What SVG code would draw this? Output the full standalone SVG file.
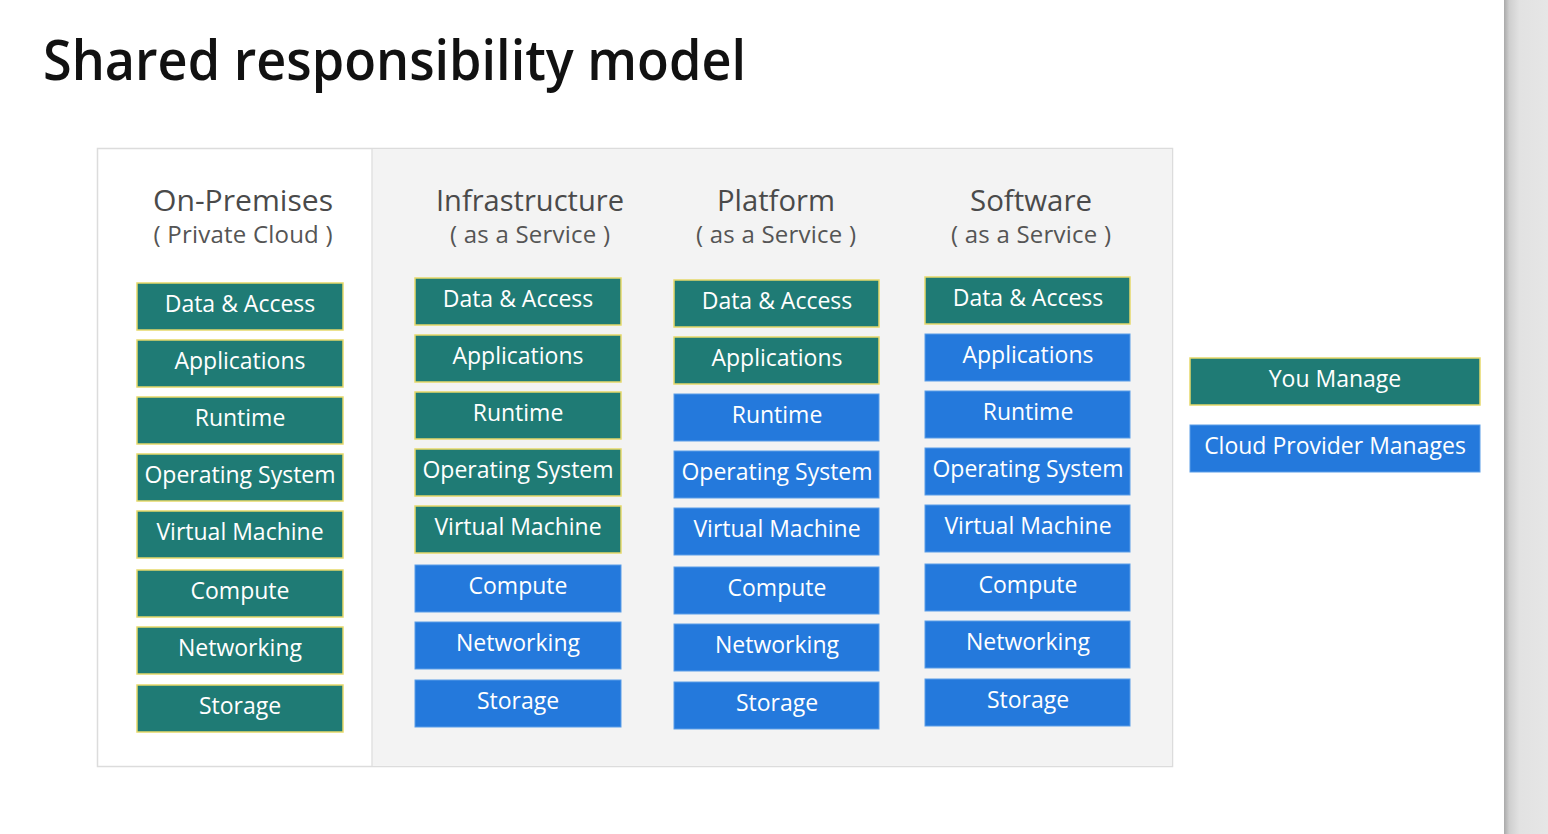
<svg xmlns="http://www.w3.org/2000/svg" width="1548" height="834" viewBox="0 0 1548 834">
<defs>
<linearGradient id="edge" x1="0" y1="0" x2="1" y2="0">
<stop offset="0" stop-color="#a9a9a9"/>
<stop offset="0.12" stop-color="#cfcfcf"/>
<stop offset="0.35" stop-color="#e2e2e2"/>
<stop offset="1" stop-color="#e6e6e6"/>
</linearGradient>
</defs>
<style>
.you{fill:#1f7b75;stroke:#e6d96a;stroke-width:1.5}
.cp{fill:#2479dc;stroke:#5a9ee8;stroke-width:1}
.lbl{font-family:"Open Sans","Liberation Sans",sans-serif;font-size:23px;fill:#ffffff;text-anchor:middle}
.hd{font-family:"Open Sans","Liberation Sans",sans-serif;font-size:30px;fill:#4a4a4a;text-anchor:middle}
.sub{font-family:"Open Sans","Liberation Sans",sans-serif;font-size:24px;fill:#555555;text-anchor:middle}
</style>
<rect x="0" y="0" width="1548" height="834" fill="#ffffff"/>
<rect x="1504" y="0" width="44" height="834" fill="url(#edge)"/>
<text x="43" y="80" font-family="'Open Sans','Liberation Sans',sans-serif" font-size="56" font-weight="600" fill="#111111" textLength="703" lengthAdjust="spacingAndGlyphs">Shared responsibility model</text>
<g id="panel">
<rect x="97.5" y="148.5" width="1075" height="618" fill="#ffffff" stroke="#dcdcdc" stroke-width="1.5"/>
<rect x="372" y="149.3" width="800" height="616.5" fill="#f3f3f3"/>
<line x1="372" y1="149" x2="372" y2="766" stroke="#e2e2e2" stroke-width="1.5"/>
</g>
<g id="col-onprem">
<text class="hd" x="243" y="211" textLength="180" lengthAdjust="spacingAndGlyphs">On-Premises</text>
<text class="sub" x="243" y="243" textLength="179" lengthAdjust="spacing">( Private Cloud )</text>
<g id="op-data"><rect class="you" x="137" y="283" width="206" height="47"/><text class="lbl" x="240" y="312">Data &amp; Access</text></g>
<g id="op-apps"><rect class="you" x="137" y="340" width="206" height="47"/><text class="lbl" x="240" y="369">Applications</text></g>
<g id="op-runtime"><rect class="you" x="137" y="397" width="206" height="47"/><text class="lbl" x="240" y="426">Runtime</text></g>
<g id="op-os"><rect class="you" x="137" y="454" width="206" height="47"/><text class="lbl" x="240" y="483">Operating System</text></g>
<g id="op-vm"><rect class="you" x="137" y="511" width="206" height="47"/><text class="lbl" x="240" y="540">Virtual Machine</text></g>
<g id="op-compute"><rect class="you" x="137" y="570" width="206" height="47"/><text class="lbl" x="240" y="599">Compute</text></g>
<g id="op-net"><rect class="you" x="137" y="627" width="206" height="47"/><text class="lbl" x="240" y="656">Networking</text></g>
<g id="op-storage"><rect class="you" x="137" y="685" width="206" height="47"/><text class="lbl" x="240" y="714">Storage</text></g>
</g>
<g id="col-iaas">
<text class="hd" x="530" y="211" textLength="188" lengthAdjust="spacingAndGlyphs">Infrastructure</text>
<text class="sub" x="530" y="243" textLength="160" lengthAdjust="spacing">( as a Service )</text>
<g id="ia-data"><rect class="you" x="415" y="278" width="206" height="47"/><text class="lbl" x="518" y="307">Data &amp; Access</text></g>
<g id="ia-apps"><rect class="you" x="415" y="335" width="206" height="47"/><text class="lbl" x="518" y="364">Applications</text></g>
<g id="ia-runtime"><rect class="you" x="415" y="392" width="206" height="47"/><text class="lbl" x="518" y="421">Runtime</text></g>
<g id="ia-os"><rect class="you" x="415" y="449" width="206" height="47"/><text class="lbl" x="518" y="478">Operating System</text></g>
<g id="ia-vm"><rect class="you" x="415" y="506" width="206" height="47"/><text class="lbl" x="518" y="535">Virtual Machine</text></g>
<g id="ia-compute"><rect class="cp" x="415" y="565" width="206" height="47"/><text class="lbl" x="518" y="594">Compute</text></g>
<g id="ia-net"><rect class="cp" x="415" y="622" width="206" height="47"/><text class="lbl" x="518" y="651">Networking</text></g>
<g id="ia-storage"><rect class="cp" x="415" y="680" width="206" height="47"/><text class="lbl" x="518" y="709">Storage</text></g>
</g>
<g id="col-paas">
<text class="hd" x="776" y="211" textLength="118" lengthAdjust="spacingAndGlyphs">Platform</text>
<text class="sub" x="776" y="243" textLength="160" lengthAdjust="spacing">( as a Service )</text>
<g id="pa-data"><rect class="you" x="674" y="280" width="205" height="47"/><text class="lbl" x="777" y="309">Data &amp; Access</text></g>
<g id="pa-apps"><rect class="you" x="674" y="337" width="205" height="47"/><text class="lbl" x="777" y="366">Applications</text></g>
<g id="pa-runtime"><rect class="cp" x="674" y="394" width="205" height="47"/><text class="lbl" x="777" y="423">Runtime</text></g>
<g id="pa-os"><rect class="cp" x="674" y="451" width="205" height="47"/><text class="lbl" x="777" y="480">Operating System</text></g>
<g id="pa-vm"><rect class="cp" x="674" y="508" width="205" height="47"/><text class="lbl" x="777" y="537">Virtual Machine</text></g>
<g id="pa-compute"><rect class="cp" x="674" y="567" width="205" height="47"/><text class="lbl" x="777" y="596">Compute</text></g>
<g id="pa-net"><rect class="cp" x="674" y="624" width="205" height="47"/><text class="lbl" x="777" y="653">Networking</text></g>
<g id="pa-storage"><rect class="cp" x="674" y="682" width="205" height="47"/><text class="lbl" x="777" y="711">Storage</text></g>
</g>
<g id="col-saas">
<text class="hd" x="1031" y="211" textLength="122" lengthAdjust="spacingAndGlyphs">Software</text>
<text class="sub" x="1031" y="243" textLength="160" lengthAdjust="spacing">( as a Service )</text>
<g id="sa-data"><rect class="you" x="925" y="277" width="205" height="47"/><text class="lbl" x="1028" y="306">Data &amp; Access</text></g>
<g id="sa-apps"><rect class="cp" x="925" y="334" width="205" height="47"/><text class="lbl" x="1028" y="363">Applications</text></g>
<g id="sa-runtime"><rect class="cp" x="925" y="391" width="205" height="47"/><text class="lbl" x="1028" y="420">Runtime</text></g>
<g id="sa-os"><rect class="cp" x="925" y="448" width="205" height="47"/><text class="lbl" x="1028" y="477">Operating System</text></g>
<g id="sa-vm"><rect class="cp" x="925" y="505" width="205" height="47"/><text class="lbl" x="1028" y="534">Virtual Machine</text></g>
<g id="sa-compute"><rect class="cp" x="925" y="564" width="205" height="47"/><text class="lbl" x="1028" y="593">Compute</text></g>
<g id="sa-net"><rect class="cp" x="925" y="621" width="205" height="47"/><text class="lbl" x="1028" y="650">Networking</text></g>
<g id="sa-storage"><rect class="cp" x="925" y="679" width="205" height="47"/><text class="lbl" x="1028" y="708">Storage</text></g>
</g>
<g id="legend">
<g id="legend-you"><rect class="you" x="1190" y="358" width="290" height="47"/><text class="lbl" x="1335" y="387">You Manage</text></g>
<g id="legend-cp"><rect class="cp" x="1190" y="425" width="290" height="47"/><text class="lbl" x="1335" y="454">Cloud Provider Manages</text></g>
</g>
<g id="connectors"/>
</svg>
